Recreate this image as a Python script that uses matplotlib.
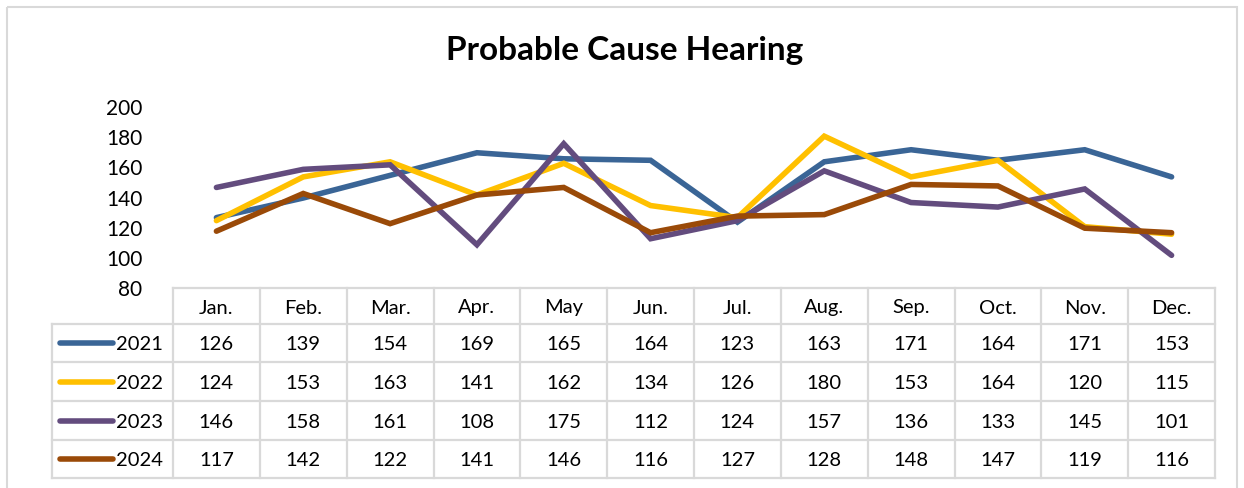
import matplotlib
matplotlib.use("Agg")

import matplotlib.pyplot as plt
from matplotlib.patches import Rectangle

months = ["Jan.", "Feb.", "Mar.", "Apr.", "May", "Jun.",
          "Jul.", "Aug.", "Sep.", "Oct.", "Nov.", "Dec."]
years = ["2021", "2022", "2023", "2024"]
v2021 = [126, 139, 154, 169, 165, 164, 123, 163, 171, 164, 171, 153]
v2022 = [124, 153, 163, 141, 162, 134, 126, 180, 153, 164, 120, 115]
v2023 = [146, 158, 161, 108, 175, 112, 124, 157, 136, 133, 145, 101]
v2024 = [117, 142, 122, 141, 146, 116, 127, 128, 148, 147, 119, 116]
series = [v2021, v2022, v2023, v2024]
colors = ["#3A6596", "#FFC000", "#634C7E", "#9A4A08"]
yticks = [80, 100, 120, 140, 160, 180, 200]

plt.rcParams["font.family"] = ["Lato", "DejaVu Sans"]

W, H = 1244, 489
fig = plt.figure(figsize=(W / 100, H / 100), dpi=100)
grid = "#D9D9D9"

# pixel-space overlay for frame and table
bg = fig.add_axes([0, 0, 1, 1])
bg.set_xlim(0, W)
bg.set_ylim(H, 0)
bg.axis("off")
bg.add_patch(Rectangle((7, 8), 1230, 486, fill=False, edgecolor=grid, lw=1.5))

# plot area
x0, x1 = 173, 1215
ytop, ybot = 107, 288
ax = fig.add_axes([x0 / W, 1 - ybot / H, (x1 - x0) / W, (ybot - ytop) / H])
ax.set_xlim(-0.5, len(months) - 0.5)
ax.set_ylim(80, 200)
for vals, c in zip(series, colors):
    ax.plot(range(len(months)), vals, color=c, lw=4, solid_capstyle="round",
            solid_joinstyle="miter")
ax.set_xticks([])
ax.set_yticks(yticks)
ax.tick_params(axis="y", length=0, pad=22, labelsize=15)
for s in ax.spines.values():
    s.set_visible(False)
ax.patch.set_alpha(0)

fig.text(625 / W, 1 - 51 / H, "Probable Cause Hearing", ha="center", va="center",
         fontsize=24, fontweight="bold")

# data table
col_w = (x1 - x0) / len(months)
rows = [289, 325, 363, 402, 441, 479]
lx = 52
bg.plot([x0, x1], [rows[0], rows[0]], color=grid, lw=1.6)
for y in rows[1:]:
    bg.plot([lx, x1], [y, y], color=grid, lw=1.6)
bg.plot([lx, lx], [rows[1], rows[-1]], color=grid, lw=1.6)
for i in range(len(months) + 1):
    x = x0 + i * col_w
    bg.plot([x, x], [rows[0], rows[-1]], color=grid, lw=1.6)

for i, m in enumerate(months):
    bg.text(x0 + (i + 0.5) * col_w, (rows[0] + rows[1]) / 2 + 1, m,
            ha="center", va="center", fontsize=14.5)
for r, (yr, vals, c) in enumerate(zip(years, series, colors)):
    yc = (rows[r + 1] + rows[r + 2]) / 2 + 1
    bg.plot([60, 113], [yc - 1, yc - 1], color=c, lw=4, solid_capstyle="round")
    bg.text(116, yc, yr, ha="left", va="center", fontsize=14.5)
    for i, v in enumerate(vals):
        bg.text(x0 + (i + 0.5) * col_w, yc, str(v), ha="center", va="center",
                fontsize=14.5)

fig.savefig("out.png", dpi=100)
